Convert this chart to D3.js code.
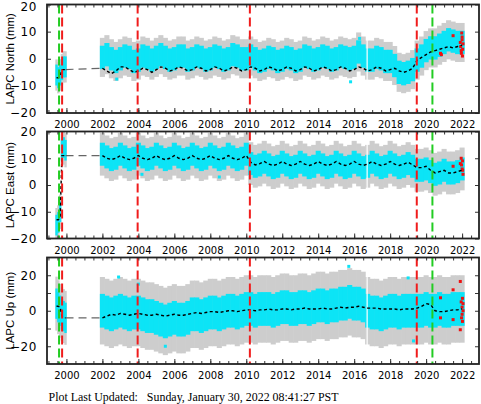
<!DOCTYPE html>
<html><head><meta charset="utf-8">
<script src="https://cdn.jsdelivr.net/npm/d3@7"></script>
<style>html,body{margin:0;padding:0;background:#fff;}svg{display:block;}</style>
</head><body>
<svg id="chart" width="481" height="404"></svg>
<script>
// ---------- data ----------
const qYears = [2002.00,2002.25,2002.50,2002.75,2003.00,2003.25,2003.50,2003.75,2004.00,2004.25,2004.50,2004.75,
2005.00,2005.25,2005.50,2005.75,2006.00,2006.25,2006.50,2006.75,2007.00,2007.25,2007.50,2007.75,
2008.00,2008.25,2008.50,2008.75,2009.00,2009.25,2009.50,2009.75,2010.00,2010.25,2010.50,2010.75,
2011.00,2011.25,2011.50,2011.75,2012.00,2012.25,2012.50,2012.75,2013.00,2013.25,2013.50,2013.75,
2014.00,2014.25,2014.50,2014.75,2015.00,2015.25,2015.50,2015.75,2016.00,2016.25,2016.50,2016.75,
2017.00,2017.25,2017.50,2017.75,2018.00,2018.25,2018.50,2018.75,2019.00,2019.25,2019.50,2019.75,
2020.00,2020.25,2020.50,2020.75,2021.00,2021.25,2021.50,2021.75,2022.00];

const northMid = [0.5,1.5,0.0,-1.0, 0.0,1.0,0.5,-1.0, -0.5,1.0,0.5,-0.5, 0.5,1.5,0.5,-0.5,
0.0,1.0,1.0,-0.5, 0.0,1.0,0.5,-0.5, 0.0,1.0,0.5,-0.5, 0.0,1.5,1.0,0.0, 0.0,1.0,0.0,-1.0,
-0.5,0.5,0.0,-1.0, -0.5,0.5,0.0,-1.0, -0.5,1.0,0.5,-0.5, 0.0,1.0,0.5,-0.5, 0.0,1.0,0.5,0.0,
0.5,2.5,1.0,-0.5, -0.5,0.5,0.0,-1.0, -1.0,-2.5,-5.0,-5.5, -5.0,-4.0,-0.5,1.0,
3.0,4.0,4.0,5.0, 6.0,7.0,6.5,6.0, 6.0];
const northModel = [-3.5,-4.5,-5.5,-4.5, -3.0,-3.0,-4.0,-5.0, -4.5,-3.5,-4.0,-5.0, -4.0,-3.0,-3.5,-4.5,
-4.0,-3.0,-3.5,-4.5, -4.0,-3.0,-3.5,-4.5, -4.0,-3.0,-3.5,-4.5, -4.0,-3.0,-3.5,-4.5, -4.0,-3.0,-3.5,-4.5,
-4.0,-3.0,-3.5,-4.5, -4.0,-3.0,-3.5,-4.5, -4.0,-3.0,-3.5,-4.5, -4.0,-3.0,-3.5,-4.5, -4.0,-3.0,-3.5,-4.5,
-4.0,-3.0,-3.5,-4.5, -4.0,-3.0,-3.5,-4.5, -4.0,-3.5,-4.5,-5.0, -4.5,-3.5,-0.5,0.5,
1.5,2.5,3.0,3.5, 4.0,4.5,4.0,4.5, 5.0];

const eastMid = [11.5,10.5,9.5,10.0, 11.5,10.5,9.5,10.0, 11.5,10.5,9.5,10.0, 11.5,10.5,9.5,10.0,
11.5,10.5,9.5,10.0, 11.5,10.5,9.5,10.0, 11.5,10.5,9.5,10.0, 11.5,10.5,9.5,10.0, 11.5,8.0,7.0,7.5,
8.5,7.5,6.5,7.0, 8.5,7.5,6.5,7.0, 8.5,7.5,6.5,7.0, 8.5,7.5,6.5,7.0, 8.5,7.5,6.5,7.0,
8.5,7.5,6.5,7.0, 8.5,7.5,6.5,7.0, 8.5,7.5,6.5,7.0, 8.0,7.0,5.5,5.5,
6.0,5.0,4.0,4.5, 5.5,4.5,4.5,5.0, 6.0];
const eastModel = [11.0,10.0,9.5,10.0, 11.0,10.0,9.5,10.0, 11.0,10.0,9.5,10.0, 11.0,10.0,9.5,10.0,
11.0,10.0,9.5,10.0, 11.0,10.0,9.5,10.0, 11.0,10.0,9.5,10.0, 11.0,10.0,9.5,10.0, 11.0,8.5,7.5,8.0,
8.8,7.8,7.3,7.8, 8.8,7.8,7.3,7.8, 8.8,7.8,7.3,7.8, 8.8,7.8,7.3,7.8, 8.8,7.8,7.3,7.8,
8.8,7.8,7.3,7.8, 8.8,7.8,7.3,7.8, 8.8,7.8,7.3,7.8, 8.5,7.5,6.5,6.5,
7.0,5.5,4.5,5.0, 5.5,4.5,4.5,5.0, 5.5];

const upMid = [0,-1,-2,-1, 0,-1,-2,-1, -1,-2,-3,-3, -4,-5,-6,-5, -4,-5,-5,-4, -2,-2,-3,-2,
-1,-1,-2,-1, 0,0,-1,0, 1,1,0,1, 1,1,0,1, 2,2,1,1, 2,2,1,2, 3,3,2,3, 3,4,4,5,
4,4,3,0, -1,-1,-2,-1, 0,0,-1,0, 0,0,0,0, 1,0,0,1, 0,0,1,1, 1];
const upModel = [-4,-3,-2,-2.5, -1.5,-2,-2.5,-2, -1.5,-2,-2.5,-2.5, -2,-2.5,-3,-2.5, -2,-2.5,-2.5,-2,
-1.5,-1,-1.5,-1, -0.5,-0.5,-1,-0.5, 0,0,-0.5,0, 0.5,0.5,0,0.5, 0.5,1,0.5,0.5, 1,1,0.5,1,
1,1.5,1,1, 1,1.5,1,1, 1.5,2,1.5,2, 2,2.5,2,1.5, 1.5,1.5,1,1, 1,1,0.5,1, 1,1,1.5,2.5,
4,3.5,0,-0.5, -0.5,0,0.5,0.5, 1];

// spreads (mm): cyan scatter half-width, grey error-bar half-width
const cyanHalf = {north: 4.3, east: 4.3, up: 9.5};
const errHalf  = {north: 7.2, east: 8.0, up: 19};

// early (1999-2000) occupation
const earlyYears = [1999.45,1999.55,1999.65,1999.75,1999.85,1999.95];
const northEarly = [-6,-7,-6,-4,-3,-3];
const eastEarly  = [-15,-14,-10,13,14,13];
const upEarly    = [4,2,0,-2,-3,-4];
const northEarlyModel = [-7,-7,-6.5,-4,-4,-4];
const eastEarlyModel  = [-13,-13,-12,11,11,11];
const upEarlyModel    = [2.5,2.5,2,-3,-4,-4];

// gap bridge 2000 -> 2002
const bridgeYears = [1999.95, 2002.0];
const northBridge = [-4, -3.5];
const eastBridge  = [11, 11];
const upBridge    = [-4, -4];

// data gaps
const gapYears = [2016.72];

// isolated cyan outliers [year, mm]
const northOut = [[2002.8,-7.5],[2015.8,-8.5],[2016.3,7.5]];
const eastOut  = [[2004.2,4],[2008.5,3]];
const upOut    = [[2002.9,19],[2004.0,15],[2015.7,25],[2019.0,18.5],[2005.5,-20],[2019.3,-17]];

// recent (red) solutions [year, mm]
const northRed = [[2020.8,2],[2020.85,1.5],[2021.5,8.5],[2021.9,6],[2021.95,3],[2022.0,8],[2022.02,1],
  [2022.05,5.5],[2021.98,9.5],[2021.92,4.5],[2022.0,7],[2022.03,3.5],[2021.96,2]];
const eastRed  = [[2021.5,7],[2021.9,8],[2021.95,10],[2022.0,6],[2022.02,9],[2022.05,4],[2021.97,7.5],[2022.03,5.5]];
const upRed    = [[2020.8,7.3],[2020.8,-4],[2021.5,11.8],[2021.5,-5],[2021.9,16.5],[2021.95,5],[2022.0,2],[2022.0,-2],
  [2022.02,-6],[2022.05,0],[2021.9,-10.7],[2022.05,4],[2021.97,-4],[2022.02,7]];

// event lines
const redEvents   = [1999.76, 2003.96, 2010.2, 2019.48];
const greenEvents = [1999.59, 2020.35];

const xLabelYears = [2000,2002,2004,2006,2008,2010,2012,2014,2016,2018,2020,2022];
const titles = ["LAPC North (mm)", "LAPC East (mm)", "LAPC Up (mm)"];
const footer = "Plot Last Updated:   Sunday, January 30, 2022 08:41:27 PST";

// ---------- drawing ----------
const svg = d3.select("#chart");
const x = d3.scaleLinear().domain([1998.92, 2022.94]).range([47, 479]);

const panels = [
  {key:"north", title:titles[0], dom:[-20,20], rng:[113,4.5], yTicks:[-20,-10,0,10,20], yLabels:[-20,-10,0,10,20],
   mid:northMid, model:northModel, early:northEarly, earlyModel:northEarlyModel, bridge:northBridge, out:northOut, red:northRed},
  {key:"east", title:titles[1], dom:[-20,20], rng:[238.5,131.5], yTicks:[-20,-10,0,10,20], yLabels:[-20,-10,0,10,20],
   mid:eastMid, model:eastModel, early:eastEarly, earlyModel:eastEarlyModel, bridge:eastBridge, out:eastOut, red:eastRed},
  {key:"up", title:titles[2], dom:[-30,30], rng:[364,257.5], yTicks:[-20,-10,0,10,20], yLabels:[-20,0,20],
   mid:upMid, model:upModel, early:upEarly, earlyModel:upEarlyModel, bridge:upBridge, out:upOut, red:upRed}
];

const GREY = "#cdcdcd", CYAN = "#0ce4f6";
const fmt = d3.format("d");

panels.forEach((p, i) => {
  const y = d3.scaleLinear().domain(p.dom).range(p.rng);
  const top = p.rng[1], bot = p.rng[0];
  const clipId = "clip" + i;
  svg.append("clipPath").attr("id", clipId).append("rect")
    .attr("x", x.range()[0]).attr("y", top).attr("width", x.range()[1]-x.range()[0]).attr("height", bot-top);
  const g = svg.append("g").attr("clip-path", `url(#${clipId})`);
  const ch = cyanHalf[p.key], eh = errHalf[p.key];

  const qd = qYears.map((t, j) => ({t, m:p.mid[j]}));
  const ed = earlyYears.map((t, j) => ({t, m:p.early[j]}));
  const bandW = (t, half) => [x(t-half)-0.3, x(t+half)+0.3];

  // grey error bars
  g.selectAll(null).data(qd).join("rect")
    .attr("x", d => bandW(d.t,0.125)[0]).attr("width", d => bandW(d.t,0.125)[1]-bandW(d.t,0.125)[0])
    .attr("y", d => y(d.m+eh)).attr("height", d => y(d.m-eh)-y(d.m+eh)).attr("fill", GREY);
  g.selectAll(null).data(ed).join("rect")
    .attr("x", d => bandW(d.t,0.05)[0]).attr("width", d => bandW(d.t,0.05)[1]-bandW(d.t,0.05)[0])
    .attr("y", d => y(d.m+eh*0.8)).attr("height", d => y(d.m-eh*0.8)-y(d.m+eh*0.8)).attr("fill", GREY);
  // cyan scatter
  g.selectAll(null).data(qd).join("rect")
    .attr("x", d => bandW(d.t,0.125)[0]).attr("width", d => bandW(d.t,0.125)[1]-bandW(d.t,0.125)[0])
    .attr("y", d => y(d.m+ch)).attr("height", d => y(d.m-ch)-y(d.m+ch)).attr("fill", CYAN);
  g.selectAll(null).data(ed).join("rect")
    .attr("x", d => bandW(d.t,0.05)[0]).attr("width", d => bandW(d.t,0.05)[1]-bandW(d.t,0.05)[0])
    .attr("y", d => y(d.m+ch*0.9)).attr("height", d => y(d.m-ch*0.9)-y(d.m+ch*0.9)).attr("fill", CYAN);
  // outliers
  g.selectAll(null).data(p.out).join("rect")
    .attr("x", d => x(d[0])-1.5).attr("y", d => y(d[1])-1.5).attr("width",3).attr("height",3).attr("fill", CYAN);
  // gaps
  g.selectAll(null).data(gapYears).join("line")
    .attr("x1", d => x(d)).attr("x2", d => x(d)).attr("y1", top).attr("y2", bot)
    .attr("stroke","#fff").attr("stroke-width",1.2);
  // red recent
  g.selectAll(null).data(p.red).join("rect")
    .attr("x", d => x(d[0])-1.5).attr("y", d => y(d[1])-1.5).attr("width",3).attr("height",3).attr("fill","#ee1111");
  // bridge
  g.append("path").datum(bridgeYears.map((t,j)=>[t,p.bridge[j]]))
    .attr("d", d3.line().x(d=>x(d[0])).y(d=>y(d[1])))
    .attr("fill","none").attr("stroke","#666").attr("stroke-width",1.1).attr("stroke-dasharray","8,5");
  // model
  const line = d3.line().x(d=>x(d[0])).y(d=>y(d[1]));
  g.append("path").datum(qYears.map((t,j)=>[t,p.model[j]]))
    .attr("d", line).attr("fill","none").attr("stroke","#000").attr("stroke-width",1.4).attr("stroke-dasharray","3,2.5");
  g.append("path").datum(earlyYears.map((t,j)=>[t,p.earlyModel[j]]))
    .attr("d", line).attr("fill","none").attr("stroke","#000").attr("stroke-width",1.4).attr("stroke-dasharray","3,2.5");
  // event lines
  g.selectAll(null).data(redEvents).join("line")
    .attr("x1", d=>x(d)).attr("x2", d=>x(d)).attr("y1", top).attr("y2", bot)
    .attr("stroke","#f01c1c").attr("stroke-width",2).attr("stroke-dasharray","9,4");
  g.selectAll(null).data(greenEvents).join("line")
    .attr("x1", d=>x(d)).attr("x2", d=>x(d)).attr("y1", top).attr("y2", bot)
    .attr("stroke","#22cc22").attr("stroke-width",2).attr("stroke-dasharray","9,4");

  // axes: ticks inward on all sides
  const minor = d3.range(1999, 2023, 0.5).filter(v => v >= x.domain()[0] && v <= x.domain()[1]);
  svg.append("g").attr("transform", `translate(0,${bot})`)
    .call(d3.axisBottom(x).tickValues(minor).tickSize(-3).tickFormat(""))
    .call(a => a.select(".domain").remove()).selectAll("line").attr("stroke","#333");
  svg.append("g").attr("transform", `translate(0,${top})`)
    .call(d3.axisTop(x).tickValues(minor).tickSize(-3).tickFormat(""))
    .call(a => a.select(".domain").remove()).selectAll("line").attr("stroke","#333");
  const xa = svg.append("g").attr("transform", `translate(0,${bot})`)
    .call(d3.axisBottom(x).tickValues(xLabelYears).tickSize(-5).tickPadding(8).tickFormat(fmt));
  xa.select(".domain").remove();
  xa.selectAll("line").attr("stroke","#333");
  xa.selectAll("text").attr("font-family","DejaVu Sans").attr("font-size","10px").attr("fill","#000");

  const ya = svg.append("g").attr("transform", `translate(${x.range()[0]},0)`)
    .call(d3.axisLeft(y).tickValues(p.yTicks).tickSize(-4).tickPadding(9).tickFormat(""));
  ya.select(".domain").remove(); ya.selectAll("line").attr("stroke","#333");
  svg.append("g").attr("transform", `translate(${x.range()[1]},0)`)
    .call(d3.axisRight(y).tickValues(p.yTicks).tickSize(-4).tickFormat(""))
    .call(a => a.select(".domain").remove()).selectAll("line").attr("stroke","#333");
  const yl = svg.append("g").attr("transform", `translate(${x.range()[0]},0)`)
    .call(d3.axisLeft(y).tickValues(p.yLabels).tickSize(0).tickPadding(10).tickFormat(fmt));
  yl.select(".domain").remove();
  yl.selectAll("text").attr("font-family","DejaVu Sans").attr("font-size","12px").attr("letter-spacing","0.6px").attr("fill","#000")
    .attr("dy", d => (y(d) < 8 ? "0.5em" : "0.32em"));

  // frame
  svg.append("rect").attr("x", x.range()[0]).attr("y", top)
    .attr("width", x.range()[1]-x.range()[0]).attr("height", bot-top)
    .attr("fill","none").attr("stroke","#222").attr("stroke-width",1.8);

  // title
  svg.append("text").attr("transform", `translate(14,${(top+bot)/2}) rotate(-90)`)
    .attr("text-anchor","middle").attr("font-family","Liberation Sans, Arial, sans-serif")
    .attr("font-size","11.5px").attr("fill","#000").text(p.title);
});

svg.append("text").attr("x", 48.5).attr("y", 400.5)
  .attr("font-family","Liberation Serif, Times New Roman, serif").attr("font-size","12px")
  .attr("fill","#000").attr("textLength", 290).attr("lengthAdjust","spacingAndGlyphs")
  .style("white-space","pre").text(footer);
</script>
</body></html>
